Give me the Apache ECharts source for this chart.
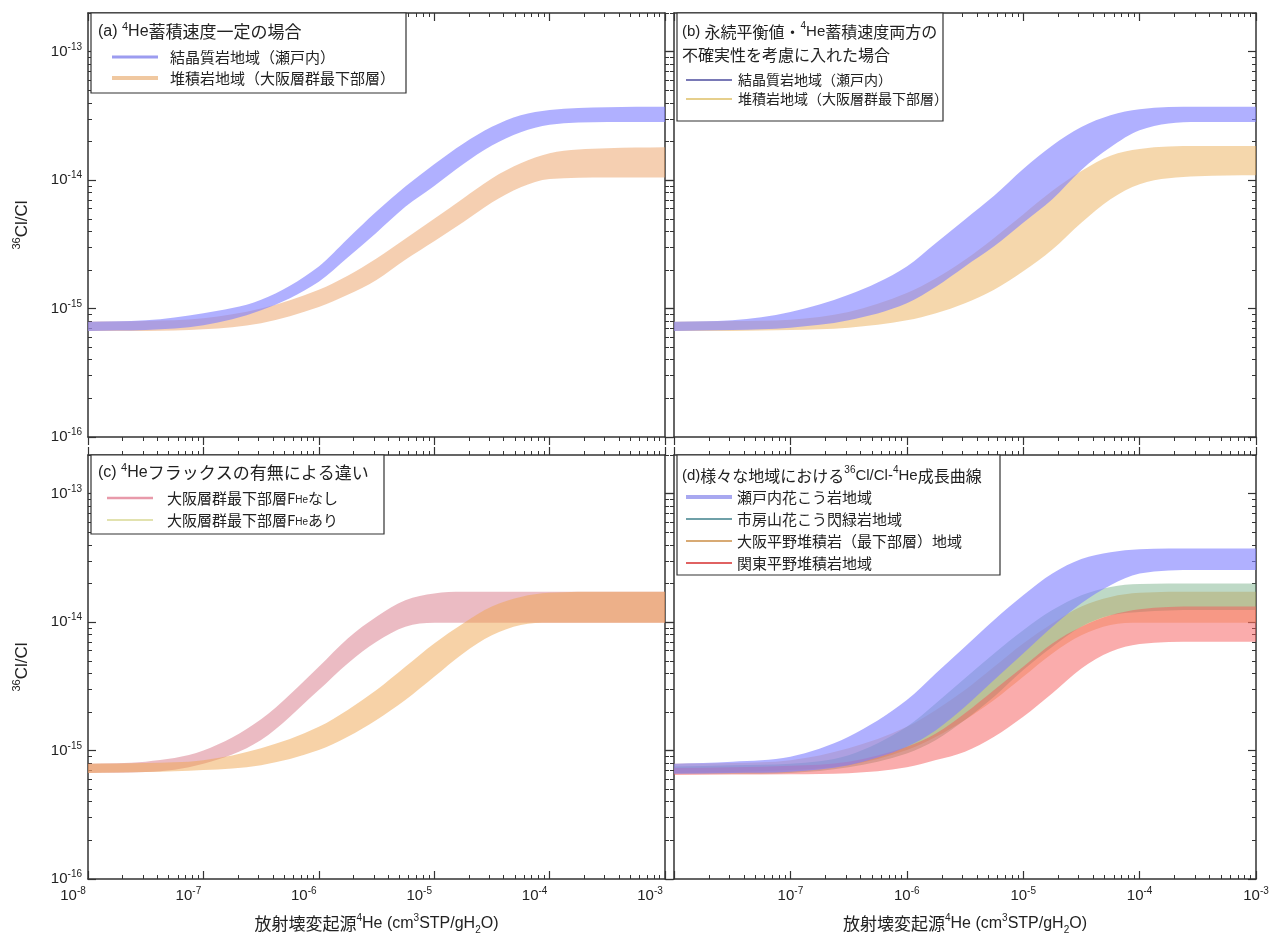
<!DOCTYPE html>
<html><head><meta charset="utf-8">
<script src="https://cdn.jsdelivr.net/npm/echarts@6/dist/echarts.min.js"></script>
<style>html,body{margin:0;padding:0;background:#fff}#c{width:1279px;height:940px}</style>
</head><body><div id="c"></div>
<script>
// ---- x values (radiogenic 4He, cm3STP/gH2O) ----
const HE = [1e-8, 3.16e-8, 1e-7, 3.16e-7, 1e-6, 1.78e-6, 3.16e-6, 5.62e-6, 1e-5, 1.78e-5, 3.16e-5, 5.62e-5, 1e-4, 3.16e-4, 1e-3];

// ---- (a) ----
const A_CRYS_HI = [7.9e-16, 8.1e-16, 9.2e-16, 1.17e-15, 2.13e-15, 3.5e-15, 5.7e-15, 8.9e-15, 1.33e-14, 1.92e-14, 2.6e-14, 3.2e-14, 3.52e-14, 3.7e-14, 3.72e-14];
const A_CRYS_LO = [6.7e-16, 6.8e-16, 7.4e-16, 9.7e-16, 1.62e-15, 2.5e-15, 3.9e-15, 6.2e-15, 9.0e-15, 1.33e-14, 1.86e-14, 2.36e-14, 2.7e-14, 2.83e-14, 2.84e-14];
const A_SED_HI = [7.9e-16, 8.0e-16, 8.4e-16, 1.0e-15, 1.4e-15, 1.8e-15, 2.45e-15, 3.5e-15, 5.0e-15, 7.2e-15, 1.03e-14, 1.35e-14, 1.62e-14, 1.77e-14, 1.8e-14];
const A_SED_LO = [6.7e-16, 6.7e-16, 6.9e-16, 7.7e-16, 1.03e-15, 1.28e-15, 1.67e-15, 2.4e-15, 3.34e-15, 4.7e-15, 6.7e-15, 8.8e-15, 1.02e-14, 1.05e-14, 1.05e-14];

// ---- (b) ----
const B_CRYS_HI = [7.9e-16, 8.1e-16, 9.4e-16, 1.28e-15, 2.13e-15, 3.24e-15, 4.94e-15, 7.54e-15, 1.22e-14, 1.86e-14, 2.59e-14, 3.2e-14, 3.56e-14, 3.72e-14, 3.72e-14];
const B_CRYS_LO = [6.7e-16, 6.8e-16, 7.1e-16, 8.1e-16, 1.1e-15, 1.48e-15, 2.13e-15, 3.05e-15, 4.66e-15, 7.1e-15, 1.2e-14, 1.8e-14, 2.44e-14, 2.83e-14, 2.83e-14];
const B_SED_HI = [7.9e-16, 8.0e-16, 8.2e-16, 9.4e-16, 1.32e-15, 1.72e-15, 2.4e-15, 3.55e-15, 5.41e-15, 8.25e-15, 1.18e-14, 1.55e-14, 1.75e-14, 1.84e-14, 1.84e-14];
const B_SED_LO = [6.7e-16, 6.7e-16, 6.8e-16, 7.1e-16, 8.1e-16, 9.2e-16, 1.1e-15, 1.4e-15, 1.95e-15, 2.88e-15, 4.66e-15, 7.1e-15, 9.3e-15, 1.07e-14, 1.09e-14];

// ---- (c) ----
const C_NOFLUX_HI = [7.9e-16, 8.2e-16, 1.0e-15, 1.75e-15, 4.49e-15, 7.46e-15, 1.1e-14, 1.48e-14, 1.67e-14, 1.72e-14, 1.72e-14, 1.72e-14, 1.72e-14, 1.72e-14, 1.72e-14];
const C_NOFLUX_LO = [6.7e-16, 6.8e-16, 7.9e-16, 1.21e-15, 2.96e-15, 4.77e-15, 7.03e-15, 9.2e-15, 9.9e-15, 9.9e-15, 9.9e-15, 9.9e-15, 9.9e-15, 9.9e-15, 9.9e-15];
const C_FLUX_HI = [7.9e-16, 8.0e-16, 8.4e-16, 1.04e-15, 1.53e-15, 2.07e-15, 2.96e-15, 4.49e-15, 6.82e-15, 9.77e-15, 1.32e-14, 1.57e-14, 1.69e-14, 1.72e-14, 1.72e-14];
const C_FLUX_LO = [6.7e-16, 6.8e-16, 7.05e-16, 7.7e-16, 1.01e-15, 1.28e-15, 1.73e-15, 2.47e-15, 3.75e-15, 5.7e-15, 7.9e-15, 9.5e-15, 9.9e-15, 9.9e-15, 9.9e-15];

// ---- (d) ----
const D_SETO_HI = [7.9e-16, 8.2e-16, 8.95e-16, 1.28e-15, 2.47e-15, 3.99e-15, 6.43e-15, 1.04e-14, 1.62e-14, 2.39e-14, 3.1e-14, 3.5e-14, 3.7e-14, 3.75e-14, 3.75e-14];
const D_SETO_LO = [6.6e-16, 6.7e-16, 6.85e-16, 7.7e-16, 1.07e-15, 1.44e-15, 2.19e-15, 3.54e-15, 5.7e-15, 9.2e-15, 1.4e-14, 1.94e-14, 2.39e-14, 2.55e-14, 2.55e-14];
const D_ICHI_HI = [7.5e-16, 7.7e-16, 7.9e-16, 9.2e-16, 1.53e-15, 2.33e-15, 3.65e-15, 5.7e-15, 8.66e-15, 1.24e-14, 1.62e-14, 1.88e-14, 1.98e-14, 2.0e-14, 2.0e-14];
const D_ICHI_LO = [6.6e-16, 6.6e-16, 6.7e-16, 7.4e-16, 9.5e-16, 1.21e-15, 1.73e-15, 2.62e-15, 4.23e-15, 6.43e-15, 9.2e-15, 1.13e-14, 1.2e-14, 1.24e-14, 1.24e-14];
const D_OSAKA_HI = [7.9e-16, 8.0e-16, 8.4e-16, 1.04e-15, 1.53e-15, 2.07e-15, 2.96e-15, 4.49e-15, 6.82e-15, 9.77e-15, 1.32e-14, 1.57e-14, 1.69e-14, 1.72e-14, 1.72e-14];
const D_OSAKA_LO = [6.7e-16, 6.8e-16, 7.05e-16, 7.7e-16, 1.01e-15, 1.28e-15, 1.73e-15, 2.47e-15, 3.75e-15, 5.7e-15, 7.9e-15, 9.5e-15, 9.9e-15, 9.9e-15, 9.9e-15];
const D_KANTO_HI = [7.3e-16, 7.4e-16, 7.6e-16, 8.2e-16, 1.07e-15, 1.36e-15, 1.95e-15, 2.96e-15, 4.49e-15, 6.82e-15, 9.2e-15, 1.13e-14, 1.26e-14, 1.32e-14, 1.32e-14];
const D_KANTO_LO = [6.45e-16, 6.5e-16, 6.53e-16, 6.65e-16, 7.4e-16, 8.44e-16, 9.8e-16, 1.28e-15, 1.83e-15, 2.79e-15, 4.36e-15, 5.87e-15, 6.74e-15, 7.03e-15, 7.03e-15];

// ---- ticks ----
const X_MAJOR = [1e-8, 1e-7, 1e-6, 1e-5, 1e-4, 1e-3];
const X_LABELS_LEFT = [1e-8, 1e-7, 1e-6, 1e-5, 1e-4, 1e-3];
const X_LABELS_RIGHT = [1e-7, 1e-6, 1e-5, 1e-4, 1e-3];
const Y_MAJOR = [1e-16, 1e-15, 1e-14, 1e-13];
const Y_LABELS = [1e-16, 1e-15, 1e-14, 1e-13];
const MINOR_STEPS = [2, 3, 4, 5, 6, 7, 8, 9];
const X_MINOR = [];
[1e-8, 1e-7, 1e-6, 1e-5, 1e-4].forEach(d => MINOR_STEPS.forEach(k => X_MINOR.push(k * d)));
const Y_MINOR = [];
[1e-16, 1e-15, 1e-14].forEach(d => MINOR_STEPS.forEach(k => Y_MINOR.push(k * d)));
Y_MINOR.push(2e-13);

const JP = '"Noto Sans CJK JP", sans-serif';
const LAT = '"Liberation Sans", Arial, sans-serif';
const INK = '#222';

const GRIDS = [
  {left: 88, top: 13, width: 577, height: 424},
  {left: 674, top: 13, width: 582, height: 424},
  {left: 88, top: 455, width: 577, height: 424},
  {left: 674, top: 455, width: 582, height: 424}
].map(g => Object.assign({outerBoundsMode: 'none', show: false}, g));

const powLabel = v => '{b|10}{s|' + Math.round(Math.log10(v)) + '}';
const labelRich = {
  b: {fontSize: 15, fontFamily: LAT, color: INK, lineHeight: 19},
  s: {fontSize: 10, fontFamily: LAT, color: INK, lineHeight: 10, verticalAlign: 'top'}
};
const axLine = {show: true, onZero: false, lineStyle: {color: '#333', width: 1.5}};

const xAxisName = '{t|放射壊変起源}{s|4}{u|He (cm}{s|3}{u|STP/gH}{d|2}{u|O)}';
const xNameRich = {
  t: {fontSize: 17, fontFamily: JP, color: INK, lineHeight: 22},
  u: {fontSize: 16, fontFamily: LAT, color: INK, lineHeight: 22},
  s: {fontSize: 10, fontFamily: LAT, color: INK, lineHeight: 10, verticalAlign: 'top'},
  d: {fontSize: 10, fontFamily: LAT, color: INK, lineHeight: 10, verticalAlign: 'bottom'}
};
const yAxisName = '{s|36}{u|Cl/Cl}';
const yNameRich = {
  u: {fontSize: 17, fontFamily: LAT, color: INK, lineHeight: 22},
  s: {fontSize: 11, fontFamily: LAT, color: INK, lineHeight: 11, verticalAlign: 'top'}
};

function xAxesFor(gi, isBottomRow, labelVals, shift) {
  const base = {type: 'log', logBase: 10, gridIndex: gi, min: 1e-8, max: 1e-3, splitLine: {show: false}, silent: true};
  const bottomInside = isBottomRow;
  const topInside = !isBottomRow;
  const bottomMajor = Object.assign({}, base, {
    position: 'bottom', axisLine: axLine,
    axisTick: {show: true, inside: bottomInside, length: 8, customValues: X_MAJOR, lineStyle: {color: '#333', width: 1.2}},
    axisLabel: labelVals ? {show: true, customValues: labelVals, formatter: powLabel, rich: labelRich, margin: 7, padding: shift ? [0, 30, 0, 0] : 0} : {show: false}
  });
  if (isBottomRow) {
    Object.assign(bottomMajor, {name: xAxisName, nameLocation: 'middle', nameGap: 34, nameTextStyle: {rich: xNameRich}});
  }
  return [
    bottomMajor,
    Object.assign({}, base, {position: 'bottom', axisLine: {show: false}, axisTick: {show: true, inside: bottomInside, length: 4, customValues: X_MINOR, lineStyle: {color: '#333', width: 1}}, axisLabel: {show: false}}),
    Object.assign({}, base, {position: 'top', axisLine: axLine, axisTick: {show: true, inside: topInside, length: 8, customValues: X_MAJOR, lineStyle: {color: '#333', width: 1.2}}, axisLabel: {show: false}}),
    Object.assign({}, base, {position: 'top', axisLine: {show: false}, axisTick: {show: true, inside: topInside, length: 4, customValues: X_MINOR, lineStyle: {color: '#333', width: 1}}, axisLabel: {show: false}})
  ];
}
function yAxesFor(gi, isLeftCol) {
  const base = {type: 'log', logBase: 10, gridIndex: gi, min: 1e-16, max: 2e-13, splitLine: {show: false}, silent: true};
  const leftInside = isLeftCol;
  const rightInside = !isLeftCol;
  const leftMajor = Object.assign({}, base, {
    position: 'left', axisLine: axLine,
    axisTick: {show: true, inside: leftInside, length: 8, customValues: Y_MAJOR, lineStyle: {color: '#333', width: 1.2}},
    axisLabel: isLeftCol ? {show: true, customValues: Y_LABELS, formatter: powLabel, rich: labelRich, margin: 6} : {show: false}
  });
  if (isLeftCol) {
    Object.assign(leftMajor, {name: yAxisName, nameLocation: 'middle', nameGap: 55, nameRotate: 90, nameTextStyle: {rich: yNameRich}});
  }
  return [
    leftMajor,
    Object.assign({}, base, {position: 'left', axisLine: {show: false}, axisTick: {show: true, inside: leftInside, length: 4, customValues: Y_MINOR, lineStyle: {color: '#333', width: 1}}, axisLabel: {show: false}}),
    Object.assign({}, base, {position: 'right', axisLine: axLine, axisTick: {show: true, inside: rightInside, length: 8, customValues: Y_MAJOR, lineStyle: {color: '#333', width: 1.2}}, axisLabel: {show: false}}),
    Object.assign({}, base, {position: 'right', axisLine: {show: false}, axisTick: {show: true, inside: rightInside, length: 4, customValues: Y_MINOR, lineStyle: {color: '#333', width: 1}}, axisLabel: {show: false}})
  ];
}

// monotone cubic (Fritsch–Carlson) bezier segments through pixel points, for drawing only
function monoSegs(p) {
  const n = p.length, d = [], m = new Array(n);
  for (let i = 0; i < n - 1; i++) d.push((p[i + 1][1] - p[i][1]) / (p[i + 1][0] - p[i][0]));
  m[0] = d[0]; m[n - 1] = d[n - 2];
  for (let i = 1; i < n - 1; i++) m[i] = (d[i - 1] * d[i] <= 0) ? 0 : (d[i - 1] + d[i]) / 2;
  for (let i = 0; i < n - 1; i++) {
    if (Math.abs(d[i]) < 1e-9) { m[i] = 0; m[i + 1] = 0; continue; }
    const a = m[i] / d[i], b = m[i + 1] / d[i], s = a * a + b * b;
    if (s > 9) { const t = 3 / Math.sqrt(s); m[i] = t * a * d[i]; m[i + 1] = t * b * d[i]; }
  }
  const segs = [];
  for (let i = 0; i < n - 1; i++) {
    const h = p[i + 1][0] - p[i][0];
    segs.push([[p[i][0] + h / 3, p[i][1] + m[i] * h / 3], [p[i + 1][0] - h / 3, p[i + 1][1] - m[i + 1] * h / 3]]);
  }
  return segs;
}
function bandPath(up, dn) {
  const f = q => q[0].toFixed(2) + ' ' + q[1].toFixed(2);
  const su = monoSegs(up), sd = monoSegs(dn);
  let s = 'M ' + f(up[0]);
  for (let i = 0; i < su.length; i++) s += ' C ' + f(su[i][0]) + ' ' + f(su[i][1]) + ' ' + f(up[i + 1]);
  s += ' L ' + f(dn[dn.length - 1]);
  for (let i = sd.length - 1; i >= 0; i--) s += ' C ' + f(sd[i][1]) + ' ' + f(sd[i][0]) + ' ' + f(dn[i]);
  return s + ' Z';
}

function band(gi, name, lo, hi, fill, color) {
  const rows = HE.map((x, i) => [x, lo[i], hi[i]]);
  return {
    type: 'custom', name: name, xAxisIndex: gi * 4, yAxisIndex: gi * 4, silent: true, z: 2,
    itemStyle: {color: color}, encode: {x: 0, y: [1, 2]}, data: rows,
    renderItem: function (params, api) {
      if (params.dataIndex !== 0) return null;
      const up = rows.map(r => api.coord([r[0], r[2]]));
      const dn = rows.map(r => api.coord([r[0], r[1]]));
      return {type: 'path', shape: {pathData: bandPath(up, dn)}, style: {fill: fill, stroke: null}};
    }
  };
}

const N_CRYS = '結晶質岩地域（瀬戸内）';
const N_SED = '堆積岩地域（大阪層群最下部層）';
const N_NOFLUX = '大阪層群最下部層FHeなし';
const N_FLUX = '大阪層群最下部層FHeあり';
const N_SETO = '瀬戸内花こう岩地域';
const N_ICHI = '市房山花こう閃緑岩地域';
const N_OSAKA = '大阪平野堆積岩（最下部層）地域';
const N_KANTO = '関東平野堆積岩地域';

const BLUE = 'rgba(128,128,255,0.62)';
const series = [
  band(0, N_SED, A_SED_LO, A_SED_HI, 'rgba(235,160,100,0.5)', '#f0c8a0'),
  band(0, N_CRYS, A_CRYS_LO, A_CRYS_HI, BLUE, '#9c9cf0'),
  band(1, N_SED, B_SED_LO, B_SED_HI, 'rgba(235,175,90,0.5)', '#e6cf8c'),
  band(1, N_CRYS, B_CRYS_LO, B_CRYS_HI, BLUE, '#4d4d9e'),
  band(2, N_NOFLUX, C_NOFLUX_LO, C_NOFLUX_HI, 'rgba(215,120,135,0.5)', '#e89aaa'),
  band(2, N_FLUX, C_FLUX_LO, C_FLUX_HI, 'rgba(240,165,80,0.5)', '#d8d894'),
  band(3, N_OSAKA, D_OSAKA_LO, D_OSAKA_HI, 'rgba(240,165,80,0.45)', '#d8aa74'),
  band(3, N_ICHI, D_ICHI_LO, D_ICHI_HI, 'rgba(100,165,120,0.42)', '#6fa0a8'),
  band(3, N_KANTO, D_KANTO_LO, D_KANTO_HI, 'rgba(245,90,90,0.5)', '#e06262'),
  band(3, N_SETO, D_SETO_LO, D_SETO_HI, BLUE, '#a8a8f0')
];

function icon(w) { return 'path://M0,0H46V' + w + 'H0Z'; }
function legendFor(left, top, gap, fontSize, pad, items, formatter) {
  const l = {
    left: left, top: top, orient: 'vertical', padding: 0, itemGap: gap, itemWidth: 46, itemHeight: 14,
    selectedMode: false, z: 6,
    textStyle: {fontFamily: JP, fontSize: fontSize, color: INK, padding: [0, 0, 0, pad],
      rich: {n: {fontFamily: JP, fontSize: fontSize, color: INK}, sub: {fontFamily: LAT, fontSize: 10, color: INK, lineHeight: 10, verticalAlign: 'bottom'}}},
    data: items.map(it => ({name: it[0], icon: icon(it[2]), itemStyle: {color: it[1], opacity: 1, borderWidth: 0}}))
  };
  if (formatter) l.formatter = formatter;
  return l;
}
const cFormatter = name => name === N_NOFLUX ? '{n|大阪層群最下部層F}{sub|He}{n|なし}' : '{n|大阪層群最下部層F}{sub|He}{n|あり}';

function titleRich(size) {
  return {
    t: {fontSize: size, fontFamily: JP, fill: INK, lineHeight: size + 5},
    a: {fontSize: size - 1, fontFamily: LAT, fill: INK, lineHeight: size + 5},
    s: {fontSize: Math.round(size * 0.62), fontFamily: LAT, fill: INK, lineHeight: 10, verticalAlign: 'top'}
  };
}
function box(x, y, w, h) {
  return {type: 'rect', shape: {x: x, y: y, width: w, height: h}, style: {fill: '#fff', stroke: '#333', lineWidth: 1.2}, z: 3, silent: true};
}
function ttl(x, y, text, size) {
  return {type: 'text', x: x, y: y, style: {text: text, rich: titleRich(size), verticalAlign: 'middle', align: 'left'}, z: 7, silent: true};
}

const option = {
  animation: false,
  backgroundColor: '#fff',
  grid: GRIDS,
  xAxis: [].concat(xAxesFor(0, false, null, false), xAxesFor(1, false, null, false), xAxesFor(2, true, X_LABELS_LEFT, true), xAxesFor(3, true, X_LABELS_RIGHT, false)),
  yAxis: [].concat(yAxesFor(0, true), yAxesFor(1, false), yAxesFor(2, true), yAxesFor(3, false)),
  legend: [
    legendFor(112, 49.5, 6, 15, 7, [[N_CRYS, '#9c9cf0', 3], [N_SED, '#f0c8a0', 4]]),
    legendFor(686, 73, 5, 14, 1, [[N_CRYS, '#4d4d9e', 1.5], [N_SED, '#e6cf8c', 2]]),
    legendFor(107, 490.5, 7, 15, 9, [[N_NOFLUX, '#e89aaa', 2.5], [N_FLUX, '#d8d894', 1.5]], cFormatter),
    legendFor(686, 489.5, 7, 15, 0, [[N_SETO, '#a8a8f0', 4], [N_ICHI, '#6fa0a8', 2], [N_OSAKA, '#d8aa74', 2], [N_KANTO, '#e06262', 2]])
  ],
  graphic: [
    box(91, 13, 315, 80),
    ttl(98, 32, '{a|(a) }{s|4}{a|He}{t|蓄積速度一定の場合}', 17),
    box(677, 13, 266, 108),
    ttl(682, 32, '{a|(b) }{t|永続平衡値・}{s|4}{a|He}{t|蓄積速度両方の}', 16),
    ttl(682, 55, '{t|不確実性を考慮に入れた場合}', 16),
    box(91, 455, 293, 79),
    ttl(98, 473, '{a|(c) }{s|4}{a|He}{t|フラックスの有無による違い}', 17),
    box(677, 455, 323, 120),
    ttl(682, 476, '{a|(d)}{t|様々な地域における}{s|36}{a|Cl/Cl-}{s|4}{a|He}{t|成長曲線}', 16)
  ],
  series: series
};

const chart = echarts.init(document.getElementById('c'), null, {renderer: 'canvas'});
chart.setOption(option);
</script>
</body></html>
